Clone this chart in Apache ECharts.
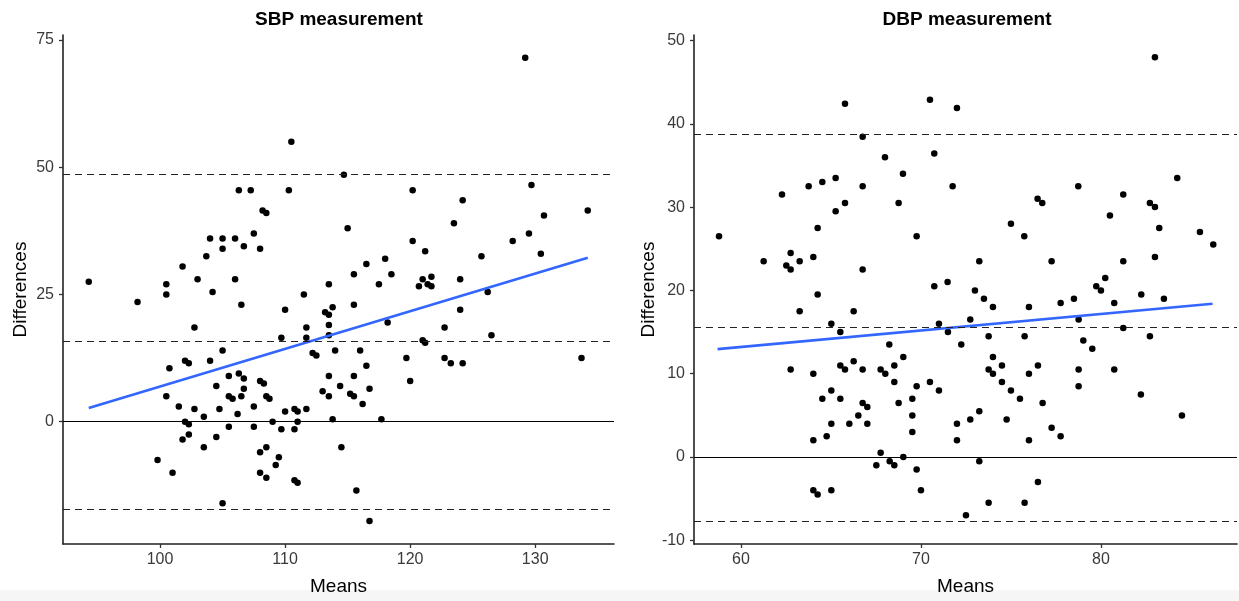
<!DOCTYPE html>
<html>
<head>
<meta charset="utf-8">
<script src="https://cdn.jsdelivr.net/npm/echarts@6/dist/echarts.min.js"></script>
<style>
html,body{margin:0;padding:0;background:#ffffff;}
#chart{width:1239px;height:601px;}
</style>
</head>
<body>
<div id="chart"></div>
<script>
// ---------- DATA ----------
const sbpMeans = [110.5,106.3,107.25,110.3,108.2,108.5,104.0,105.0,106.0,107.5,105.0,106.7,108.0,103.7,101.8,103.0,106.0,94.3,100.5,113.5,
  129.2,114.7,120.2,129.7,124.2,115.0,123.5,130.7,134.2,129.5,120.2,128.2,121.2,125.7,130.45,118.0,116.5,115.5,118.5,117.5,121.0,121.7,124.0,120.7,121.4,121.7,
  100.5,104.2,98.2,106.5,111.5,110.0,113.2,113.5,113.8,113.5,102.75,111.7,113.5,109.7,111.7,105.0,114.0,112.2,112.5,104.0,102.0,102.3,100.75,106.3,105.5,106.7,113.5,114.4,104.5,108.0,108.3,106.7,113.0,100.5,105.5,105.8,106.5,108.5,108.75,113.5,101.5,107.5,102.75,104.75,110.0,110.75,111.0,111.7,106.2,103.5,113.8,102.0,102.3,109.0,111.0,105.5,107.5,109.7,110.75,102.3,104.5,101.8,103.5,114.5,108.0,108.5,109.5,99.8,109.25,101.0,108.0,108.5,110.75,111.0,105.0,
  115.5,126.2,124.0,118.2,122.75,126.5,121.0,121.2,116.0,119.7,122.75,123.25,124.2,133.7,116.5,115.5,120.0,116.75,115.2,115.5,116.2,117.7,115.7,116.75];
const sbpDiffs = [55.0,45.5,45.5,45.5,41.5,41.0,36.0,36.0,36.0,37.0,34.0,34.5,34.0,32.5,30.5,28.0,28.0,27.5,27.0,27.0,
  71.5,48.5,45.5,46.5,43.5,38.0,39.0,40.5,41.5,37.0,35.5,35.5,33.5,32.5,33.0,32.0,31.0,29.0,29.0,27.0,28.0,28.5,28.0,26.6,27.0,26.6,
  25.0,25.5,23.5,23.0,25.0,22.0,21.5,21.0,22.5,19.0,18.5,18.5,17.0,16.5,16.5,14.0,14.0,13.5,13.0,12.0,12.0,11.5,10.5,9.5,9.0,8.5,9.0,7.0,7.0,8.0,7.5,6.5,6.0,5.0,5.0,4.5,5.0,5.0,4.5,5.0,3.0,3.0,2.5,2.5,2.0,2.5,2.0,2.5,1.5,1.0,0.5,0.0,-0.5,0.0,0.0,-1.0,-1.0,-1.5,-1.5,-2.5,-3.0,-3.5,-5.0,-5.0,-6.0,-5.0,-7.0,-7.5,-8.5,-10.0,-10.0,-11.0,-11.5,-12.0,-16.0,
  23.0,25.5,22.0,19.5,18.5,17.0,16.0,15.5,14.0,12.5,12.5,11.5,11.5,12.5,11.0,9.0,8.0,6.5,5.5,5.0,3.5,0.5,-13.5,-19.5];
const sbpLimits = [48.6, 15.8, -17.1];   // upper LoA, mean difference, lower LoA
const sbpFitX = [94.3, 134.2];
const sbpFitY = [2.7, 32.2];
const sbpXTicks = [100, 110, 120, 130];
const sbpYTicks = [0, 25, 50, 75];

const dbpMeans = [58.78,61.26,62.28,62.52,62.76,62.76,63.26,63.76,64.02,64.26,64.26,64.52,65.26,65.26,65.78,65.78,66.76,66.76,66.76,68.0,68.76,69.0,69.76,70.5,70.74,70.74,71.48,
  72.0,83.0,71.76,78.74,84.24,76.48,76.74,81.24,82.72,83.0,80.5,75.0,75.74,83.24,85.5,86.24,73.24,77.26,81.24,83.0,73.0,73.5,74.0,76.0,77.76,78.5,79.74,80.0,80.24,80.74,82.24,83.5,
  72.74,78.76,81.24,72.24,73.76,75.76,79.02,79.52,82.72,74.0,73.76,74.0,74.5,76.5,76.0,78.76,80.74,74.5,75.0,75.5,78.76,82.22,76.76,73.24,72.0,72.74,74.76,84.5,77.26,77.76,72.0,76.0,73.24,76.5,73.76,75.76,72.5,
  63.26,66.26,65.02,65.52,71.0,68.24,69.02,66.26,65.52,65.78,66.76,62.76,64.02,67.76,68.02,68.52,68.52,70.5,69.76,71.0,64.52,65.02,65.52,69.52,66.76,67.02,68.76,66.52,69.52,65.02,66.02,67.02,64.76,64.02,69.52,67.76,69.02,67.52,68.26,68.52,69.76,64.02,64.26,65.02,70.0,71.5];
const dbpDiffs = [26.5,23.5,31.5,23.0,24.5,22.5,23.5,32.5,24.0,27.5,19.5,33.0,33.5,29.5,42.4,30.5,38.45,32.5,22.5,36.0,30.5,34.0,26.5,42.9,36.45,20.5,21.0,
  41.9,48.0,32.5,32.5,33.5,31.0,30.5,31.5,30.5,30.0,29.0,28.0,26.5,27.5,27.0,25.5,23.5,23.5,23.5,24.0,20.0,19.0,18.0,18.0,18.5,19.0,20.5,20.0,21.5,18.5,19.5,19.0,
  16.5,16.5,15.5,13.5,14.5,14.5,14.0,13.0,14.5,12.0,10.5,10.0,11.0,11.0,10.0,10.5,10.5,9.0,8.0,7.0,8.5,7.5,6.5,5.5,4.0,4.5,4.5,5.0,3.5,2.5,2.0,2.0,-0.5,-3.0,-5.5,-5.5,-7.0,
  17.5,17.5,16.0,15.0,16.0,13.5,12.0,11.5,11.0,10.5,10.5,10.5,10.0,10.5,10.0,11.0,9.0,9.0,8.5,8.0,7.0,8.0,7.0,7.0,6.5,6.0,6.5,5.0,5.0,4.0,4.0,4.0,2.5,2.0,3.0,0.5,0.0,-1.0,-0.5,-1.0,-1.5,-4.0,-4.5,-4.0,-4.0,15.0];
const dbpLimits = [38.8, 15.6, -7.7];
const dbpFitX = [58.7, 86.2];
const dbpFitY = [12.95, 18.4];
const dbpXTicks = [60, 70, 80];
const dbpYTicks = [-10, 0, 10, 20, 30, 40, 50];

const panelTitles = ['SBP measurement', 'DBP measurement'];
const xTitle = 'Means';
const yTitle = 'Differences';

// ---------- CHART ----------
const FONT = 'Liberation Sans, Arial, Helvetica, sans-serif';
const zip = (a, b) => a.map((v, i) => [v, b[i]]);

function xAxisCfg(idx, min, max, ticks) {
  return {
    type: 'value', gridIndex: idx, min: min, max: max,
    name: xTitle, nameLocation: 'middle', nameGap: 33,
    nameTextStyle: { fontFamily: FONT, fontSize: 19, color: '#000' },
    axisLine: { show: true, onZero: false, lineStyle: { color: '#222', width: 1.6 } },
    axisTick: { show: true, length: 4, customValues: ticks, lineStyle: { color: '#333', width: 1.3 } },
    axisLabel: { customValues: ticks, fontFamily: FONT, fontSize: 16, color: '#3a3a3a', margin: 8 },
    splitLine: { show: false }
  };
}
function yAxisCfg(idx, min, max, ticks, gap) {
  return {
    type: 'value', gridIndex: idx, min: min, max: max,
    name: yTitle, nameLocation: 'middle', nameGap: gap, nameRotate: 90,
    nameTextStyle: { fontFamily: FONT, fontSize: 19, color: '#000' },
    axisLine: { show: true, onZero: false, lineStyle: { color: '#222', width: 1.6 } },
    axisTick: { show: true, length: 4, customValues: ticks, lineStyle: { color: '#333', width: 1.3 } },
    axisLabel: { customValues: ticks, fontFamily: FONT, fontSize: 16, color: '#3a3a3a', margin: 9 },
    splitLine: { show: false }
  };
}
function refLines(limits) {
  return {
    silent: true, symbol: 'none', animation: false,
    label: { show: false },
    data: [
      { yAxis: 0, lineStyle: { type: 'solid', color: '#000', width: 1.2 } },
      { yAxis: limits[0], lineStyle: { type: [7, 5], color: '#222', width: 1.2 } },
      { yAxis: limits[1], lineStyle: { type: [7, 5], color: '#222', width: 1.2 } },
      { yAxis: limits[2], lineStyle: { type: [7, 5], color: '#222', width: 1.2 } }
    ]
  };
}

const chart = echarts.init(document.getElementById('chart'), null, { renderer: 'canvas' });
chart.setOption({
  backgroundColor: '#ffffff',
  animation: false,
  graphic: [
    { type: 'rect', left: 0, top: 590, shape: { width: 1239, height: 11 }, style: { fill: '#f6f6f6' }, z: -10, silent: true }
  ],
  title: [
    { text: panelTitles[0], left: 334, top: 5, textAlign: 'center',
      textStyle: { fontFamily: FONT, fontSize: 19, fontWeight: 'bold', color: '#000' } },
    { text: panelTitles[1], left: 962, top: 5, textAlign: 'center',
      textStyle: { fontFamily: FONT, fontSize: 19, fontWeight: 'bold', color: '#000' } }
  ],
  grid: [
    { left: 63, top: 35, width: 551, height: 512 },
    { left: 694, top: 35, width: 543, height: 512 }
  ],
  xAxis: [
    xAxisCfg(0, 92.24, 136.3, sbpXTicks),
    xAxisCfg(1, 57.39, 87.56, dbpXTicks)
  ],
  yAxis: [
    yAxisCfg(0, -24.02, 75.98, sbpYTicks, 33),
    yAxisCfg(1, -10.44, 50.66, dbpYTicks, 26)
  ],
  series: [
    { type: 'scatter', xAxisIndex: 0, yAxisIndex: 0, data: zip(sbpMeans, sbpDiffs),
      symbolSize: 6.5, itemStyle: { color: '#000', opacity: 1 }, markLine: refLines(sbpLimits), z: 3 },
    { type: 'line', xAxisIndex: 0, yAxisIndex: 0, data: zip(sbpFitX, sbpFitY),
      showSymbol: false, lineStyle: { color: '#3366FF', width: 2.6 }, z: 4 },
    { type: 'scatter', xAxisIndex: 1, yAxisIndex: 1, data: zip(dbpMeans, dbpDiffs),
      symbolSize: 6.5, itemStyle: { color: '#000', opacity: 1 }, markLine: refLines(dbpLimits), z: 3 },
    { type: 'line', xAxisIndex: 1, yAxisIndex: 1, data: zip(dbpFitX, dbpFitY),
      showSymbol: false, lineStyle: { color: '#3366FF', width: 2.6 }, z: 4 }
  ]
});
</script>
</body>
</html>
